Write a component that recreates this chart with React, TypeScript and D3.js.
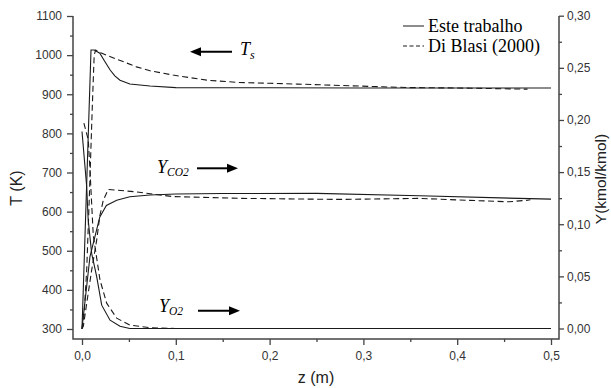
import React, { useRef, useEffect } from 'react';
import * as d3 from 'd3';

// values, z in metres
const zTsEste = [0, 0.0096, 0.013, 0.019, 0.024, 0.03, 0.035, 0.0405, 0.051, 0.0725, 0.1, 0.2, 0.3, 0.4, 0.5];
const tsEste = [300, 1013, 1013, 1005, 985, 962, 947, 936, 926, 921, 917, 916.5, 916, 916, 916];

const zTsBlasi = [0, 0.002, 0.005, 0.008, 0.011, 0.013, 0.0145, 0.02, 0.026, 0.04, 0.058, 0.0725, 0.097, 0.133, 0.168, 0.2, 0.23, 0.32, 0.35, 0.4, 0.475];
const tsBlasi = [300, 330, 450, 650, 870, 1000, 1013, 1006, 1000, 987, 970, 960, 949, 936, 930, 928, 926, 919, 917, 916, 913];

const zCo2Este = [0, 0.0085, 0.019, 0.026, 0.037, 0.051, 0.0725, 0.1, 0.15, 0.25, 0.36, 0.466, 0.5];
const co2Este = [0, 0.069, 0.107, 0.118, 0.123, 0.1263, 0.128, 0.129, 0.1295, 0.1296, 0.1273, 0.1248, 0.1241];

const zCo2Blasi = [0, 0.0014, 0.005, 0.0103, 0.0157, 0.019, 0.0227, 0.028, 0.037, 0.058, 0.075, 0.097, 0.17, 0.275, 0.36, 0.41, 0.455, 0.475, 0.478];
const co2Blasi = [0, 0.002, 0.024, 0.056, 0.085, 0.108, 0.123, 0.1334, 0.1327, 0.131, 0.129, 0.1265, 0.1248, 0.1238, 0.1248, 0.123, 0.1215, 0.123, 0.1235];

const zO2Este = [0, 0.005, 0.0066, 0.0103, 0.0157, 0.021, 0.0299, 0.0405, 0.051, 0.1, 0.2, 0.3, 0.4, 0.5];
const o2Este = [0.189, 0.136, 0.104, 0.072, 0.0495, 0.0224, 0.008, 0.0022, 0, 0, 0, 0, 0, 0];

const zO2Blasi = [0.002, 0.0067, 0.0085, 0.012, 0.0192, 0.0263, 0.037, 0.051, 0.0725, 0.1];
const o2Blasi = [0.197, 0.181, 0.152, 0.0895, 0.0464, 0.0243, 0.0099, 0.0032, 0.0008, 0];

const zTicks = [0, 0.1, 0.2, 0.3, 0.4, 0.5];
const zMinor = [0.05, 0.15, 0.25, 0.35, 0.45];
const tTicks = [300, 400, 500, 600, 700, 800, 900, 1000, 1100];
const tMinor = [350, 450, 550, 650, 750, 850, 950, 1050];
const yTicks = [0, 0.05, 0.1, 0.15, 0.2, 0.25, 0.3];
const yMinor = [0.025, 0.075, 0.125, 0.175, 0.225, 0.275];

const legendLabels = ['Este trabalho', 'Di Blasi (2000)'];

const W = 611;
const H = 388;
const frame = { left: 73, right: 559, top: 16, bottom: 339 };
const axisColor = '#444';
const lineColor = '#1a1a1a';
const sans = 'Arial, "Liberation Sans", sans-serif';
const serif = '"Times New Roman", "Liberation Serif", serif';

const comma = (f: string) => (d: d3.NumberValue) => d3.format(f)(+d).replace('.', ',');

const App: React.FC = () => {
  const svgRef = useRef<SVGSVGElement | null>(null);

  const x = d3.scaleLinear().domain([0, 0.5]).range([82, 551]);
  const yT = d3.scaleLinear().domain([300, 1100]).range([329, 16]);
  const yY = d3.scaleLinear().domain([0, 0.3]).range([328.5, 15.7]);

  useEffect(() => {
    const svg = d3.select(svgRef.current);
    svg.select('.axes').remove();
    const g = svg.append('g').attr('class', 'axes').attr('color', axisColor);

    const style = (sel: d3.Selection<SVGGElement, unknown, null, undefined>) => {
      sel.select('.domain').remove();
      sel.selectAll('line').attr('stroke-width', 1.3);
      sel.selectAll('text').attr('font-family', sans).attr('font-size', 12).attr('fill', '#333');
    };

    // bottom
    g.append('g').attr('transform', `translate(0,${frame.bottom})`)
      .call(d3.axisBottom(x).tickValues(zTicks).tickSize(6).tickPadding(6).tickFormat(comma('.1f')))
      .call(style);
    g.append('g').attr('transform', `translate(0,${frame.bottom})`)
      .call(d3.axisBottom(x).tickValues(zMinor).tickSize(3).tickFormat(() => ''))
      .call(style);

    // left
    g.append('g').attr('transform', `translate(${frame.left},0)`)
      .call(d3.axisLeft(yT).tickValues(tTicks).tickSize(6).tickPadding(5).tickFormat(d3.format('d')))
      .call(style);
    g.append('g').attr('transform', `translate(${frame.left},0)`)
      .call(d3.axisLeft(yT).tickValues(tMinor).tickSize(3).tickFormat(() => ''))
      .call(style);

    // right
    g.append('g').attr('transform', `translate(${frame.right},0)`)
      .call(d3.axisRight(yY).tickValues(yTicks).tickSize(5).tickPadding(3).tickFormat(comma('.2f')))
      .call(style);
    g.append('g').attr('transform', `translate(${frame.right},0)`)
      .call(d3.axisRight(yY).tickValues(yMinor).tickSize(3).tickFormat(() => ''))
      .call(style);

    // frame lines
    g.append('path')
      .attr('d', `M${frame.left},${frame.top}V${frame.bottom}H${frame.right}V${frame.top}`)
      .attr('fill', 'none')
      .attr('stroke', axisColor)
      .attr('stroke-width', 1.5);
  }, []);

  const lineT = (zs: number[]) =>
    d3.line<number>().x((_, i) => x(zs[i])).y(v => yT(v));
  const lineY = (zs: number[]) =>
    d3.line<number>().x((_, i) => x(zs[i])).y(v => yY(v));

  const solid = { fill: 'none', stroke: lineColor, strokeWidth: 1.1 };
  const dashed = { ...solid, strokeDasharray: '6,3.5' };

  const arrow = (x1: number, x2: number, y: number, key: string) => {
    const dir = x2 > x1 ? 1 : -1;
    return (
      <g key={key}>
        <line x1={x1} x2={x2 - dir * 9} y1={y} y2={y} stroke="#000" strokeWidth={2} />
        <path d={`M${x2},${y}L${x2 - dir * 11},${y - 4.5}L${x2 - dir * 11},${y + 4.5}Z`} fill="#000" />
      </g>
    );
  };

  return (
    <svg ref={svgRef} width={W} height={H} style={{ position: 'absolute', left: 0, top: 0, background: '#fff' }}>
      <path d={lineT(zTsEste)(tsEste) || ''} {...solid} />
      <path d={lineT(zTsBlasi)(tsBlasi) || ''} {...dashed} />
      <path d={lineY(zCo2Este)(co2Este) || ''} {...solid} />
      <path d={lineY(zCo2Blasi)(co2Blasi) || ''} {...dashed} />
      <path d={lineY(zO2Este)(o2Este) || ''} {...solid} />
      <path d={lineY(zO2Blasi)(o2Blasi) || ''} {...dashed} />

      {/* legend */}
      <line x1={403} x2={424} y1={26} y2={26} stroke={lineColor} strokeWidth={1} />
      <text x={428} y={32} fontFamily={serif} fontSize={18}>{legendLabels[0]}</text>
      <line x1={403} x2={424} y1={46} y2={46} stroke={lineColor} strokeWidth={1} strokeDasharray="4,2.5" />
      <text x={428} y={52} fontFamily={serif} fontSize={18}>{legendLabels[1]}</text>

      {/* annotations */}
      {arrow(232, 190, 51.7, 'ts')}
      <text x={240} y={55} fontFamily={serif} fontSize={18} fontStyle="italic">
        T<tspan fontSize={12} dy={3.5}>s</tspan>
      </text>
      <text x={157} y={173.3} fontFamily={serif} fontSize={18} fontStyle="italic">
        Y<tspan fontSize={11.5} dy={3}>CO2</tspan>
      </text>
      {arrow(197, 238, 168.3, 'co2')}
      <text x={159} y={312.3} fontFamily={serif} fontSize={18} fontStyle="italic">
        Y<tspan fontSize={11.5} dy={2.5}>O2</tspan>
      </text>
      {arrow(198, 240, 310.7, 'o2')}

      {/* axis titles */}
      <text transform="translate(22,188) rotate(-90)" textAnchor="middle" fontFamily={sans} fontSize={16} fill="#222">T (K)</text>
      <text transform="translate(606,179) rotate(-90)" textAnchor="middle" fontFamily={sans} fontSize={15.5} fill="#222">Y(kmol/kmol)</text>
      <text x={316} y={383} textAnchor="middle" fontFamily={sans} fontSize={16} fill="#222">z (m)</text>
    </svg>
  );
};

export default App;
